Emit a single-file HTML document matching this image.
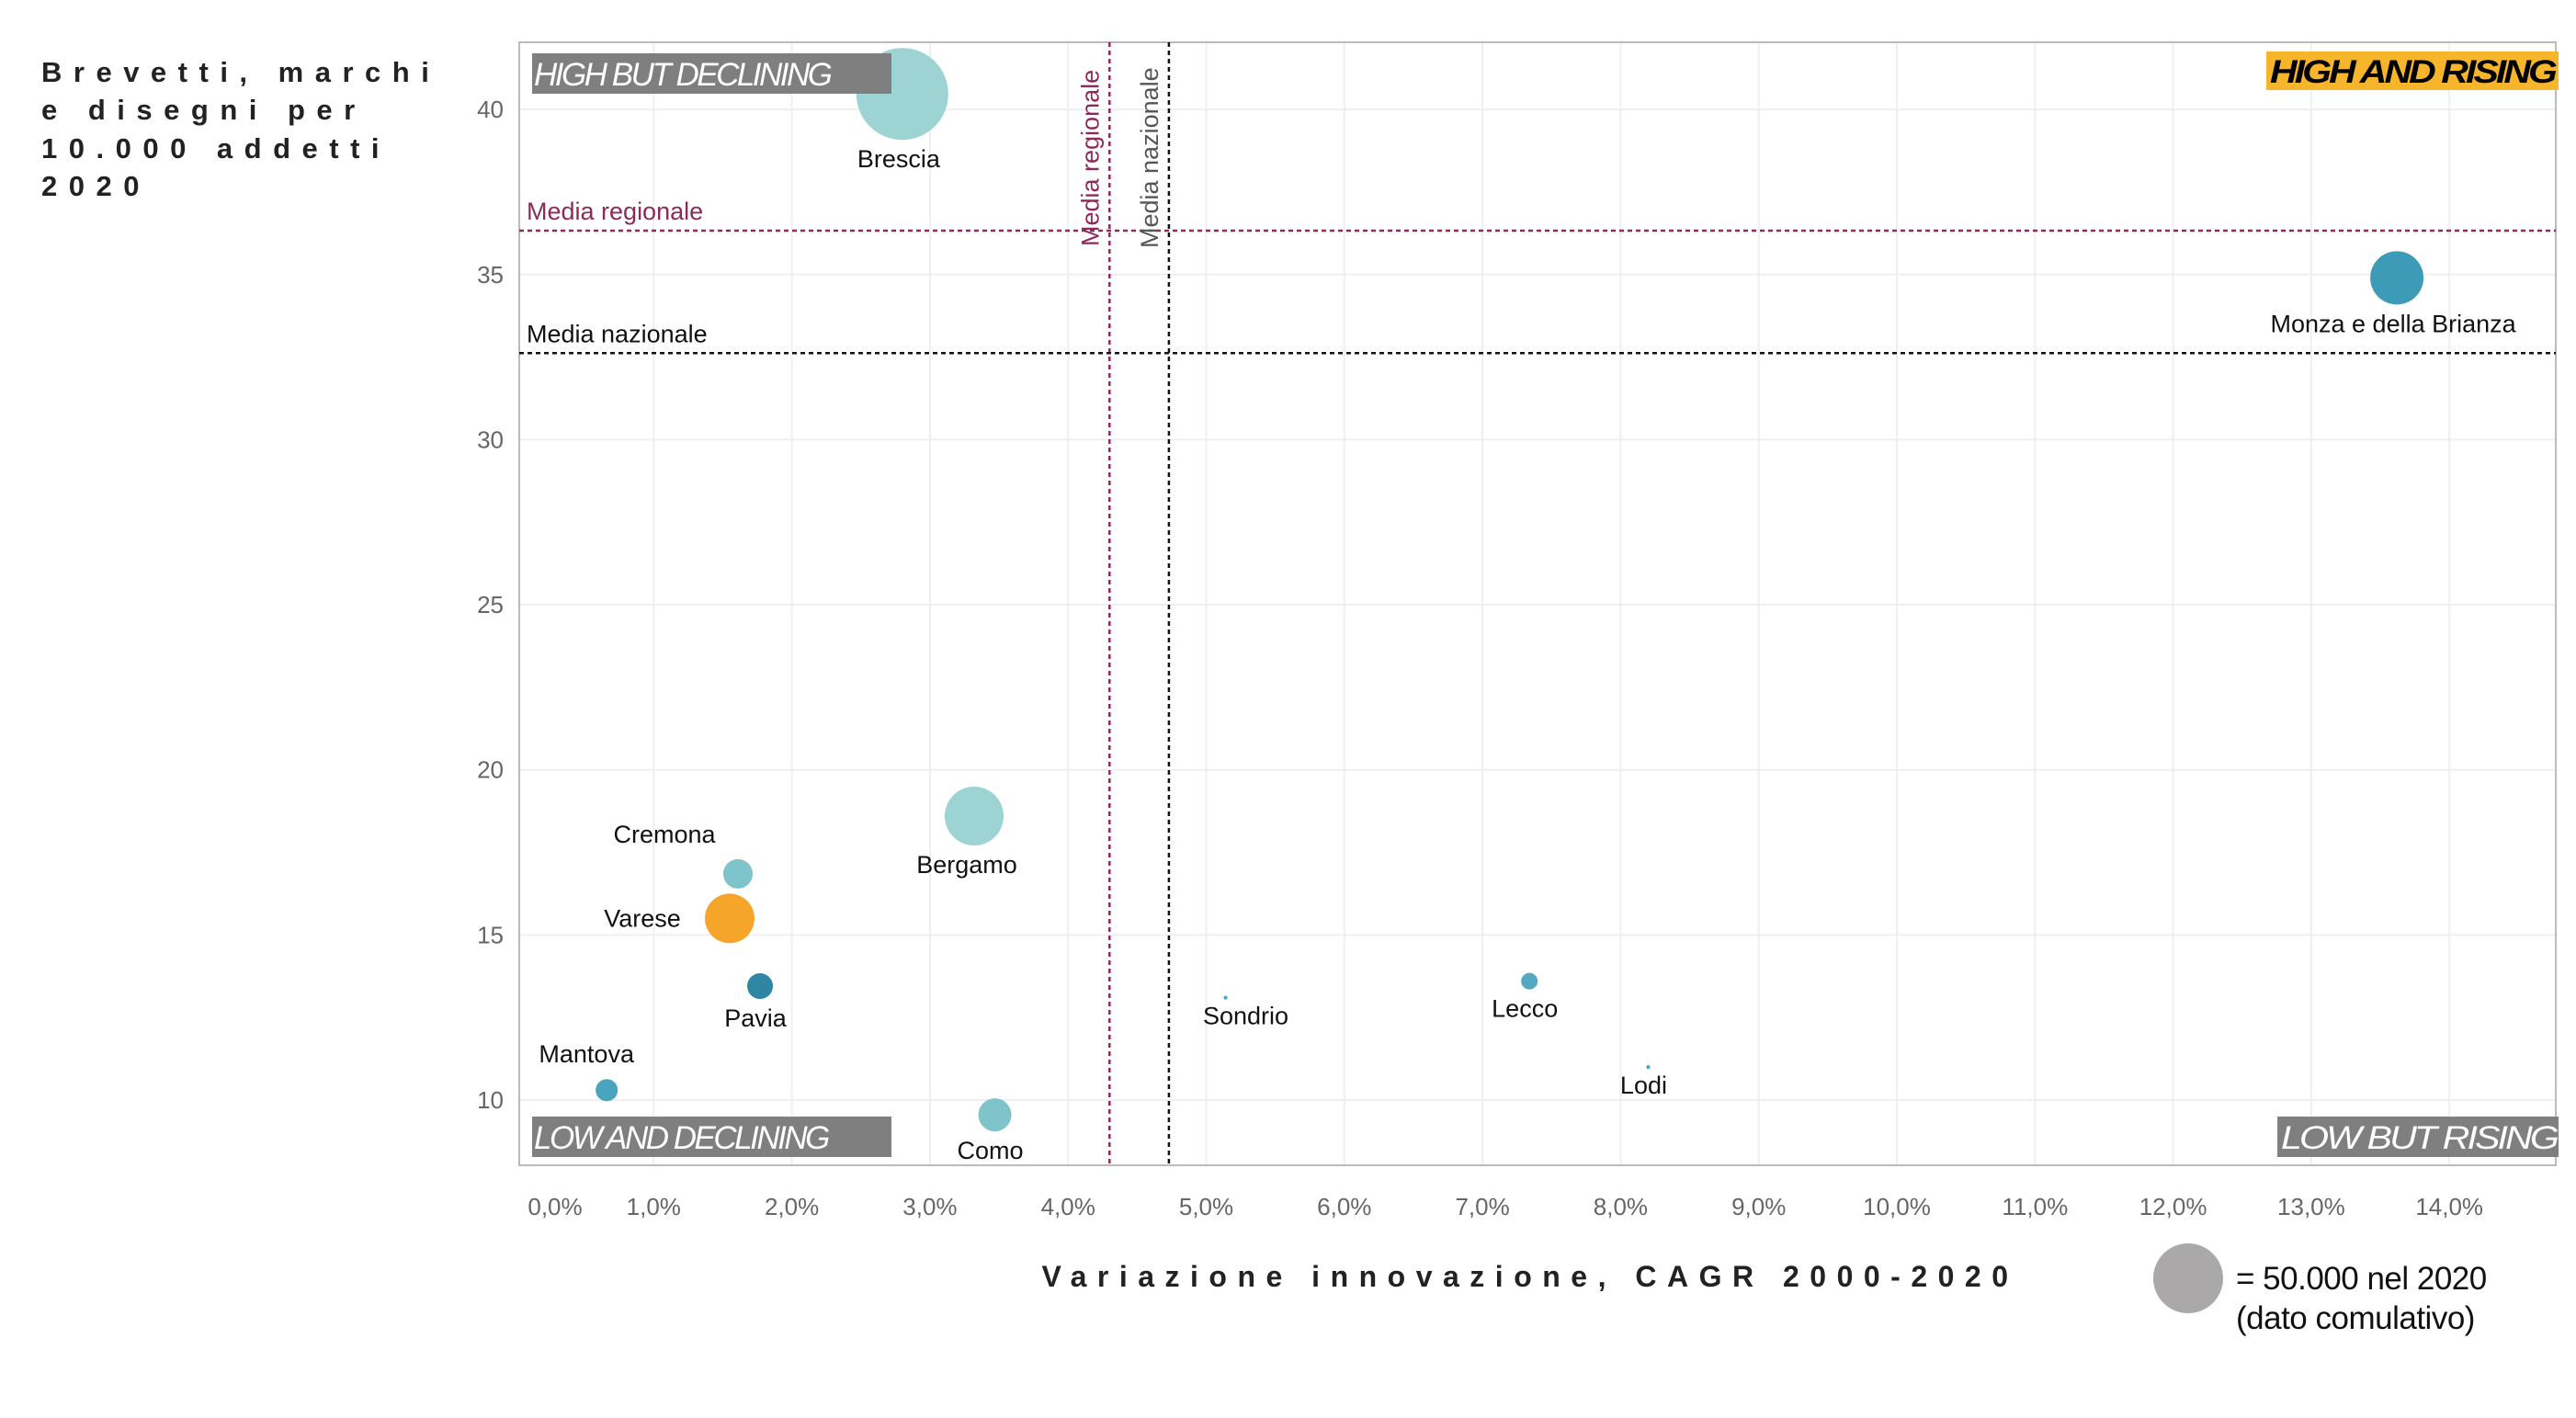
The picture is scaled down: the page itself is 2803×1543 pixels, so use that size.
<!DOCTYPE html>
<html><head><meta charset="utf-8"><style>
html,body{margin:0;padding:0;background:#fff;}
svg{display:block;font-family:"Liberation Sans",sans-serif;}
</style></head><body>
<svg id="chart" width="2803" height="1543" viewBox="0 0 2803 1543">
<g font-weight="bold" font-size="31" fill="#222" letter-spacing="12.5">
<text x="45" y="89">Brevetti, marchi</text>
<text x="45" y="130">e disegni per</text>
<text x="45" y="172">10.000 addetti</text>
<text x="45" y="213">2020</text>
</g>
<g id="grid"></g>
<g id="axes"></g>
<g id="refs"></g>
<g id="points"></g>
<g font-style="italic" font-size="35" letter-spacing="-2.5">
<rect x="579" y="58" width="391" height="44" fill="#7f7f7f"/>
<text x="581" y="93" fill="#fff">HIGH BUT DECLINING</text>
<rect x="2466" y="56" width="318" height="42" fill="#f7b52c"/>
<text x="2780" y="90" fill="#000" font-weight="bold" text-anchor="end" textLength="310" lengthAdjust="spacingAndGlyphs">HIGH AND RISING</text>
<rect x="579" y="1215" width="391" height="44" fill="#7f7f7f"/>
<text x="581" y="1250" fill="#fff">LOW AND DECLINING</text>
<rect x="2478" y="1215" width="306" height="44" fill="#7f7f7f"/>
<text x="2782" y="1250" fill="#fff" text-anchor="end" textLength="300" lengthAdjust="spacingAndGlyphs">LOW BUT RISING</text>
</g>
<text x="1665" y="1400" text-anchor="middle" font-weight="bold" font-size="32" fill="#222" letter-spacing="11.5">Variazione innovazione, CAGR 2000-2020</text>
<g>
<circle cx="2381" cy="1391" r="38" fill="#aaa8a8"/>
<text x="2433" y="1403" font-size="35" fill="#111" letter-spacing="-0.5">= 50.000 nel 2020</text>
<text x="2433" y="1446" font-size="35" fill="#111" letter-spacing="-0.5">(dato comulativo)</text>
</g>
</svg>
<script>
const provinces=["Brescia","Monza e della Brianza","Bergamo","Cremona","Varese","Pavia","Mantova","Como","Sondrio","Lecco","Lodi"];
const cagr=[2.80,13.62,3.32,1.61,1.55,1.77,0.66,3.47,5.14,7.34,8.20];
const perWorkers=[40.47,34.9,18.6,16.85,15.5,13.45,10.3,9.55,13.1,13.6,11.0];
const totals=[86600,29100,35500,8900,25200,6800,5000,11200,140,2800,140];
const colors=["#9dd3d2","#3e9bb8","#9dd3d2","#80c4cb","#f5a62a","#2f86a3","#4aa3bf","#80c4cb","#4aa3bf","#53a8c0","#4aa3bf"];
const xTicks=[0,1,2,3,4,5,6,7,8,9,10,11,12,13,14];
const yTicks=[10,15,20,25,30,35,40];
const regionalMean=[4.30,36.33];
const nationalMean=[4.73,32.62];
const L=565,R=2781,T=46,B=1268;
const xs=v=>561+v*150.3;
const ys=v=>1197-(v-10)*35.93;
const rs=v=>38*Math.sqrt(v/50000);
const NS="http://www.w3.org/2000/svg";
function mk(tag,attrs,parent,txt){const e=document.createElementNS(NS,tag);for(const k in attrs)e.setAttribute(k,attrs[k]);if(txt!==undefined)e.textContent=txt;parent.appendChild(e);return e;}
const grid=document.getElementById('grid'),axes=document.getElementById('axes'),refs=document.getElementById('refs'),pts=document.getElementById('points');
xTicks.forEach((t,i)=>{
 const x=xs(t);
 if(x>L+2){const g=mk('line',{x1:x,x2:x,y1:T,y2:B,stroke:'#efefef','stroke-width':2},grid);
 
 }
 const lx=i===0?Math.max(x,604):x;
 const tl=mk('text',{x:lx,y:1322,'text-anchor':'middle','font-size':26,fill:'#666'},axes,t.toFixed(1).replace('.',',')+'%');
 
 
});
yTicks.forEach(t=>{
 const y=ys(t);
 const g=mk('line',{x1:L,x2:R,y1:y,y2:y,stroke:'#efefef','stroke-width':2},grid);
 
 
 const tl=mk('text',{x:548,y:y+9,'text-anchor':'end','font-size':26,fill:'#666'},axes,String(t));
 
 
});
const frame=mk('rect',{x:L,y:T,width:R-L,height:B-T,fill:'none',stroke:'#bbb','stroke-width':2},axes);


function ref(mean,color,name){
 const x=xs(mean[0]),y=ys(mean[1]);
 const v=mk('line',{x1:x,x2:x,y1:T,y2:B,stroke:color,'stroke-width':2.5,'stroke-dasharray':'5,4'},refs);
 
 
 const h=mk('line',{x1:L,x2:R,y1:y,y2:y,stroke:color,'stroke-width':2.5,'stroke-dasharray':'5,4'},refs);
 
 
}
ref(regionalMean,'#8e2a5a','media-regionale');
ref(nationalMean,'#111','media-nazionale');
const t1=mk('text',{x:573,y:ys(regionalMean[1])-12,'font-size':27,fill:'#8e2a5a'},refs,'Media regionale');


const t2=mk('text',{x:573,y:ys(nationalMean[1])-12,'font-size':27,fill:'#111'},refs,'Media nazionale');


const vx1=xs(regionalMean[0])-12,vx2=xs(nationalMean[0])-12;
const t3=mk('text',{x:0,y:0,'font-size':27,fill:'#8e2a5a',transform:`translate(${vx1},268) rotate(-90)`},refs,'Media regionale');


const t4=mk('text',{x:0,y:0,'font-size':27,fill:'#555',transform:`translate(${vx2},270) rotate(-90)`},refs,'Media nazionale');


const labelPos={"Brescia":[-4,1],"Monza e della Brianza":[-4,1],"Bergamo":[-8,1],"Cremona":[-80,-1],"Varese":[-95,0],"Pavia":[-5,1],"Mantova":[-22,-1],"Como":[-5,1],"Sondrio":[22,1],"Lecco":[-5,1],"Lodi":[-5,1]};
provinces.forEach((p,i)=>{
 const cx=xs(cagr[i]),cy=ys(perWorkers[i]),r=Math.max(rs(totals[i]),1.5);
 const c=mk('circle',{cx:cx,cy:cy,r:r,fill:colors[i]},pts);
 
 
 const lp=labelPos[p];let ly;
 if(lp[1]===1)ly=cy+Math.max(r,4)+30;else if(lp[1]===-1)ly=cy-Math.max(r,4)-18;else ly=cy+9;
 if(p==="Sondrio"||p==="Lodi")ly=cy+Math.max(r,4)+25;
 const t=mk('text',{x:cx+lp[0],y:ly,'text-anchor':'middle','font-size':27,fill:'#111'},pts,p);
 
 
});
</script>
</body></html>
